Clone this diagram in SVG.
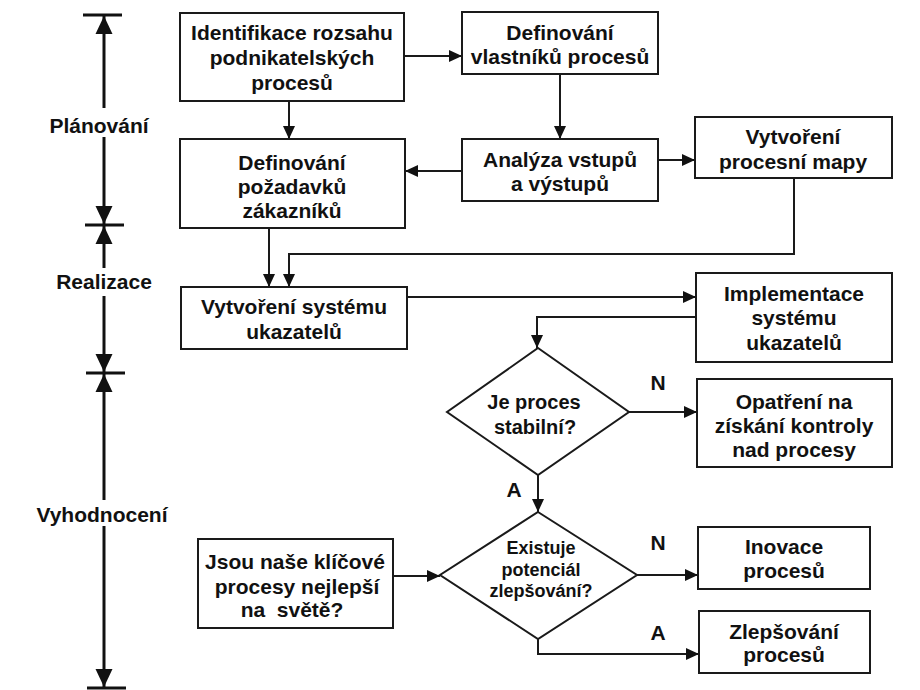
<svg xmlns="http://www.w3.org/2000/svg" width="920" height="690" viewBox="0 0 920 690">
  <style>
    .box { fill: #ffffff; stroke: #1a1a1a; stroke-width: 2; }
    .dia { fill: #ffffff; stroke: #1a1a1a; stroke-width: 2; }
    .t { font-family: "Liberation Sans", Arial, sans-serif; font-weight: bold; font-size: 21px; fill: #111; text-anchor: middle; }
    .ts { font-size: 18px; }
    .tm { font-size: 20px; }
    .conn { fill: none; stroke: #1a1a1a; stroke-width: 2; marker-end: url(#arr); }
    .axis { fill: none; stroke: #111; stroke-width: 3; }
    .bar { stroke: #111; stroke-width: 3; }
  </style>
  <defs>
    <marker id="arr" markerUnits="userSpaceOnUse" markerWidth="14" markerHeight="14" viewBox="0 0 14 14" refX="13" refY="7" orient="auto">
      <path d="M0,1 L13,7 L0,13 Z" fill="#111"/>
    </marker>
    <marker id="tip" markerUnits="userSpaceOnUse" markerWidth="20" markerHeight="20" viewBox="0 0 20 20" refX="18" refY="10" orient="auto">
      <path d="M0,1.5 L18,10 L0,18.5 Z" fill="#111"/>
    </marker>
  </defs>

  <rect width="920" height="690" fill="#ffffff"/>

  <!-- phase timeline on the left -->
  <g id="timeline">
    <line class="bar" x1="83" y1="15" x2="122" y2="15"/>
    <line class="bar" x1="85" y1="225" x2="124" y2="225"/>
    <line class="bar" x1="86" y1="373" x2="125" y2="373"/>
    <line class="bar" x1="87" y1="688" x2="126" y2="688"/>
    <path class="axis" d="M104,108 V16" marker-end="url(#tip)"/>
    <path class="axis" d="M104,137 V224" marker-end="url(#tip)"/>
    <path class="axis" d="M104,268 V226" marker-end="url(#tip)"/>
    <path class="axis" d="M104,296 V372" marker-end="url(#tip)"/>
    <path class="axis" d="M104,500 V374" marker-end="url(#tip)"/>
    <path class="axis" d="M104,526 V687" marker-end="url(#tip)"/>
    <text class="t" x="99" y="133">Plánování</text>
    <text class="t" x="104" y="289">Realizace</text>
    <text class="t" x="102" y="522">Vyhodnocení</text>
  </g>

  <!-- connectors -->
  <g id="connectors">
    <path class="conn" d="M404,56 H462"/>
    <path class="conn" d="M289,101 V139"/>
    <path class="conn" d="M560,74 V139"/>
    <path class="conn" d="M462,171 H405"/>
    <path class="conn" d="M658,160 H695"/>
    <path class="conn" d="M794,178 V254 H289 V287"/>
    <path class="conn" d="M269,228 V287"/>
    <path class="conn" d="M407,297 H696"/>
    <path class="conn" d="M696,317 H537 V348"/>
    <path class="conn" d="M629,412 H697"/>
    <path class="conn" d="M538,475 V512"/>
    <path class="conn" d="M637,575 H698"/>
    <path class="conn" d="M538,639 V654 H699"/>
    <path class="conn" d="M393,576 H440"/>
    <text class="t" x="658" y="390">N</text>
    <text class="t" x="514" y="497">A</text>
    <text class="t" x="658" y="550">N</text>
    <text class="t" x="658" y="640">A</text>
  </g>

  <g id="identifikace">
    <rect class="box" x="180" y="13" width="224" height="88"/>
    <text class="t" x="292" y="40">Identifikace rozsahu</text>
    <text class="t" x="292" y="65">podnikatelských</text>
    <text class="t" x="292" y="90">procesů</text>
  </g>

  <g id="vlastnici">
    <rect class="box" x="462" y="12" width="196" height="62"/>
    <text class="t" x="560" y="40">Definování</text>
    <text class="t" x="560" y="64">vlastníků procesů</text>
  </g>

  <g id="pozadavky">
    <rect class="box" x="180" y="139" width="225" height="89"/>
    <text class="t" x="292" y="170">Definování</text>
    <text class="t" x="292" y="194">požadavků</text>
    <text class="t" x="292" y="218">zákazníků</text>
  </g>

  <g id="analyza">
    <rect class="box" x="462" y="139" width="196" height="62"/>
    <text class="t" x="560" y="167">Analýza vstupů</text>
    <text class="t" x="560" y="191">a výstupů</text>
  </g>

  <g id="mapa">
    <rect class="box" x="695" y="117" width="197" height="61"/>
    <text class="t" x="793" y="144">Vytvoření</text>
    <text class="t" x="793" y="169">procesní mapy</text>
  </g>

  <g id="system">
    <rect class="box" x="181" y="287" width="226" height="62"/>
    <text class="t" x="294" y="314">Vytvoření systému</text>
    <text class="t" x="294" y="339">ukazatelů</text>
  </g>

  <g id="implementace">
    <rect class="box" x="696" y="273" width="196" height="89"/>
    <text class="t" x="794" y="301">Implementace</text>
    <text class="t" x="794" y="325">systému</text>
    <text class="t" x="794" y="350">ukazatelů</text>
  </g>

  <g id="stabilni">
    <polygon class="dia" points="538,348 629,412 538,475 447,412"/>
    <text class="t tm" x="534" y="409">Je proces</text>
    <text class="t tm" x="535" y="434">stabilní?</text>
  </g>

  <g id="opatreni">
    <rect class="box" x="697" y="379" width="195" height="88"/>
    <text class="t" x="794" y="409">Opatření na</text>
    <text class="t" x="794" y="433">získání kontroly</text>
    <text class="t" x="794" y="457">nad procesy</text>
  </g>

  <g id="potencial">
    <polygon class="dia" points="538,512 637,575 538,639 440,575"/>
    <text class="t ts" x="541" y="554">Existuje</text>
    <text class="t ts" x="541" y="576">potenciál</text>
    <text class="t ts" x="541" y="597">zlepšování?</text>
  </g>

  <g id="inovace">
    <rect class="box" x="698" y="527" width="172" height="62"/>
    <text class="t" x="784" y="554">Inovace</text>
    <text class="t" x="784" y="578">procesů</text>
  </g>

  <g id="zlepsovani">
    <rect class="box" x="699" y="611" width="171" height="62"/>
    <text class="t" x="784" y="639">Zlepšování</text>
    <text class="t" x="784" y="662">procesů</text>
  </g>

  <g id="nejlepsi">
    <rect class="box" x="198" y="539" width="195" height="89"/>
    <text class="t" x="295" y="569">Jsou naše klíčové</text>
    <text class="t" x="297" y="594">procesy nejlepší</text>
    <text class="t" x="292" y="617" xml:space="preserve">na  světě?</text>
  </g>
</svg>
